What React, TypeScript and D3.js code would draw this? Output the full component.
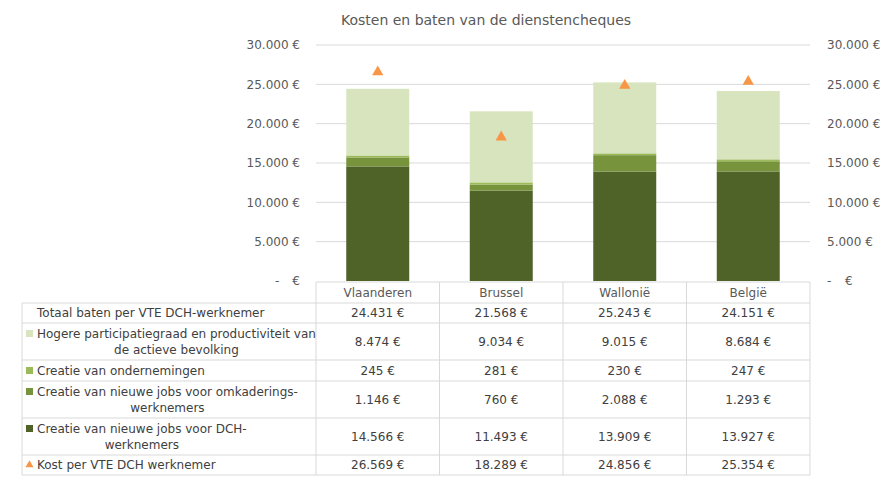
import React from "react";
import * as d3 from "d3";

const categories = ["Vlaanderen", "Brussel", "Wallonië", "België"];
const dchJobs = [14566, 11493, 13909, 13927];
const omkJobs = [1146, 760, 2088, 1293];
const ondernemingen = [245, 281, 230, 247];
const hogere = [8474, 9034, 9015, 8684];
const totaal = [24431, 21568, 25243, 24151];
const kost = [26569, 18289, 24856, 25354];
const yTicks = [5000, 10000, 15000, 20000, 25000, 30000];

const seriesNames = [
  "Creatie van nieuwe jobs voor DCH-werknemers",
  "Creatie van nieuwe jobs voor omkaderings-werknemers",
  "Creatie van ondernemingen",
  "Hogere participatiegraad en productiviteit van de actieve bevolking",
];
const seriesData = [dchJobs, omkJobs, ondernemingen, hogere];
const colors = ["#4F6228", "#77933C", "#9BBB59", "#D7E4BD"];
const triColor = "#F79646";

const W = 893;
const H = 483;
const FONT = "'DejaVu Sans', Verdana, sans-serif";
const textColor = "#595959";
const gridColor = "#D9D9D9";

const locale = d3.formatLocale({ decimal: ",", thousands: ".", grouping: [3], currency: ["", " €"] });
const fmt = (v: number) => locale.format(",.0f")(v) + " €";

function measure(text: string, size = 12) {
  const c = document.createElement("canvas").getContext("2d");
  if (!c) return text.length * size * 0.6;
  c.font = `${size}px 'DejaVu Sans'`;
  return c.measureText(text).width;
}

export default function App() {
  const y = d3.scaleLinear().domain([0, 30000]).range([281, 45]);
  const x = d3.scaleBand<string>().domain(categories).range([316, 810]).paddingInner(0.49).paddingOuter(0.245);
  const col = d3.scaleBand<string>().domain(categories).range([316, 810]);

  const stackInput = categories.map((c, i) => {
    const o: any = { cat: c };
    seriesNames.forEach((s, k) => (o[s] = seriesData[k][i]));
    return o;
  });
  const stacked = d3.stack<any>().keys(seriesNames)(stackInput);
  const tri = d3.symbol().type(d3.symbolTriangle).size(55);

  // table rows
  const rowLines = [303, 323, 360, 381, 418, 455, 475];
  type Row = { lines: string[]; marker: string | null; values: number[]; tri?: boolean };
  const rows: Row[] = [
    { lines: ["Totaal baten per VTE DCH-werknemer"], marker: null, values: totaal },
    { lines: ["Hogere participatiegraad en productiviteit van", "de actieve bevolking"], marker: colors[3], values: hogere },
    { lines: ["Creatie van ondernemingen"], marker: colors[2], values: ondernemingen },
    { lines: ["Creatie van nieuwe jobs voor omkaderings-", "werknemers"], marker: colors[1], values: omkJobs },
    { lines: ["Creatie van nieuwe jobs voor DCH-", "werknemers"], marker: colors[0], values: dchJobs },
    { lines: ["Kost per VTE DCH werknemer"], marker: triColor, values: kost, tri: true },
  ];
  const labelX = 37;

  return (
    <svg width={W} height={H} style={{ position: "absolute", left: 0, top: 0, background: "#fff" }} fontFamily={FONT}>
      <rect width={W} height={H} fill="#fff" />
      <text x={486} y={25} textAnchor="middle" fontSize={14} fill={textColor}>
        Kosten en baten van de dienstencheques
      </text>
      {/* gridlines */}
      {yTicks.map((t) => (
        <line key={t} x1={316} x2={810} y1={y(t)} y2={y(t)} stroke={gridColor} strokeWidth={1} />
      ))}
      {/* axis labels */}
      {yTicks.map((t) => (
        <g key={"l" + t}>
          <text x={300} y={y(t)} dy="0.35em" textAnchor="end" fontSize={12} fill={textColor}>{fmt(t)}</text>
          <text x={827} y={y(t)} dy="0.35em" textAnchor="start" fontSize={12} fill={textColor}>{fmt(t)}</text>
        </g>
      ))}
      <text x={275} y={y(0)} dy="0.35em" fontSize={12} fill={textColor}>-</text>
      <text x={300} y={y(0)} dy="0.35em" textAnchor="end" fontSize={12} fill={textColor}>€</text>
      <text x={827} y={y(0)} dy="0.35em" fontSize={12} fill={textColor}>-</text>
      <text x={845} y={y(0)} dy="0.35em" fontSize={12} fill={textColor}>€</text>
      {/* bars */}
      {stacked.map((s, k) => (
        <g key={s.key} fill={colors[k]}>
          {s.map((d, i) => (
            <rect key={i} x={x(categories[i])} width={x.bandwidth()} y={y(d[1])} height={y(d[0]) - y(d[1])} />
          ))}
        </g>
      ))}
      {/* triangles */}
      {kost.map((v, i) => (
        <path key={i} d={tri() as string} transform={`translate(${(x(categories[i]) as number) + x.bandwidth() / 2},${y(v)})`} fill={triColor} />
      ))}
      {/* table */}
      <g stroke={gridColor} strokeWidth={1}>
        <line x1={316} x2={810} y1={282} y2={282} />
        {rowLines.map((ly) => (
          <line key={ly} x1={22} x2={810} y1={ly} y2={ly} />
        ))}
        <line x1={22} x2={22} y1={303} y2={475} />
        {categories.map((c) => (
          <line key={c} x1={col(c)} x2={col(c)} y1={282} y2={475} />
        ))}
        <line x1={810} x2={810} y1={282} y2={475} />
      </g>
      {categories.map((c) => (
        <text key={c} x={(col(c) as number) + col.bandwidth() / 2} y={292.5} dy="0.35em" textAnchor="middle" fontSize={12} fill={textColor}>
          {c}
        </text>
      ))}
      {rows.map((r, ri) => {
        const top = rowLines[ri];
        const bot = rowLines[ri + 1];
        const mid = (top + bot) / 2;
        const n = r.lines.length;
        const firstY = mid - ((n - 1) * 16) / 2;
        const w1 = measure(r.lines[0]);
        const cx = labelX + w1 / 2;
        return (
          <g key={ri}>
            {r.marker && !r.tri && <rect x={26} y={firstY - 3.5} width={7} height={7} fill={r.marker} />}
            {r.tri && <path d={d3.symbol().type(d3.symbolTriangle).size(28)() as string} transform={`translate(29.5,${firstY})`} fill={r.marker as string} />}
            {r.lines.map((l, li) =>
              li === 0 ? (
                <text key={li} x={labelX} y={firstY} dy="0.35em" fontSize={12} fill="#404040">{l}</text>
              ) : (
                <text key={li} x={cx} y={firstY + li * 16} dy="0.35em" textAnchor="middle" fontSize={12} fill="#404040">{l}</text>
              )
            )}
            {r.values.map((v, i) => (
              <text key={i} x={(col(categories[i]) as number) + col.bandwidth() / 2} y={mid} dy="0.35em" textAnchor="middle" fontSize={12} fill="#404040">
                {fmt(v)}
              </text>
            ))}
          </g>
        );
      })}
    </svg>
  );
}
